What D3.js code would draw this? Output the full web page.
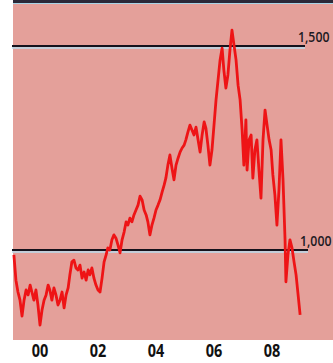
<!DOCTYPE html>
<html>
<head>
<meta charset="utf-8">
<script src="https://cdn.jsdelivr.net/npm/d3@7"></script>
<style>
  body { margin: 0; background: #fff; }
  svg { display: block; }
</style>
</head>
<body>
<script>
// index, weekly-ish reads off the picture
var years = [
  1999.10, 1999.17, 1999.24, 1999.31, 1999.38, 1999.45, 1999.52, 1999.59, 1999.66, 1999.72,
  1999.79, 1999.86, 1999.93, 2000.00, 2000.07, 2000.14, 2000.21, 2000.28, 2000.34, 2000.41,
  2000.48, 2000.55, 2000.62, 2000.69, 2000.76, 2000.83, 2000.90, 2000.97, 2001.03, 2001.10,
  2001.17, 2001.24, 2001.31, 2001.38, 2001.45, 2001.52, 2001.59, 2001.66, 2001.72, 2001.79,
  2001.86, 2001.93, 2002.00, 2002.07, 2002.14, 2002.21, 2002.28, 2002.34, 2002.41, 2002.48,
  2002.55, 2002.62, 2002.69, 2002.76, 2002.83, 2002.90, 2002.97, 2003.03, 2003.10, 2003.17,
  2003.24, 2003.31, 2003.38, 2003.45, 2003.52, 2003.59, 2003.66, 2003.72, 2003.79, 2003.86,
  2003.93, 2004.00, 2004.07, 2004.14, 2004.21, 2004.28, 2004.34, 2004.41, 2004.48, 2004.55,
  2004.62, 2004.69, 2004.76, 2004.83, 2004.90, 2004.97, 2005.03, 2005.10, 2005.17, 2005.24,
  2005.31, 2005.38, 2005.45, 2005.52, 2005.59, 2005.66, 2005.72, 2005.79, 2005.86, 2005.93,
  2006.00, 2006.07, 2006.14, 2006.21, 2006.28, 2006.34, 2006.41, 2006.48, 2006.55, 2006.62,
  2006.69, 2006.76, 2006.83, 2006.90, 2006.97, 2007.03, 2007.10, 2007.14, 2007.21, 2007.28,
  2007.34, 2007.41, 2007.48, 2007.55, 2007.62, 2007.69, 2007.76, 2007.83, 2007.90, 2007.97,
  2008.03, 2008.10, 2008.17, 2008.24, 2008.31, 2008.38, 2008.45, 2008.48, 2008.55, 2008.62,
  2008.69, 2008.76, 2008.83, 2008.90, 2008.97
];
var values = [
  988, 926, 897, 877, 838, 877, 902, 890, 914, 897,
  877, 902, 865, 816, 853, 877, 890, 914, 902, 877,
  907, 890, 865, 877, 897, 858, 890, 907, 939, 971,
  975, 956, 951, 963, 931, 946, 926, 951, 939, 956,
  931, 914, 902, 897, 931, 971, 988, 1005, 1000, 1025,
  1037, 1029, 1012, 993, 1025, 1044, 1069, 1061, 1078, 1069,
  1086, 1098, 1110, 1132, 1123, 1098, 1086, 1069, 1037, 1061,
  1078, 1098, 1110, 1123, 1142, 1159, 1176, 1208, 1233, 1201,
  1172, 1208, 1225, 1240, 1250, 1257, 1270, 1289, 1306, 1294,
  1282, 1301, 1270, 1240, 1282, 1314, 1299, 1257, 1208, 1245,
  1306, 1368, 1417, 1466, 1495, 1441, 1397, 1429, 1490, 1539,
  1502, 1466, 1404, 1368, 1294, 1208, 1319, 1196, 1270, 1282,
  1176, 1245, 1270, 1196, 1127, 1270, 1343, 1306, 1270, 1245,
  1184, 1135, 1061, 1147, 1270, 1172, 1025, 922, 988, 1025,
  1005, 971, 939, 890, 841
];
var gridValues = [1000, 1500];
var gridLabels = ["1,000", "1,500"];
var tickYears = [2000, 2002, 2004, 2006, 2008];
var tickLabels = ["00", "02", "04", "06", "08"];

var w = 333, h = 363;
var plotLeft = 13, plotBottom = 340;

var svg = d3.select("body").append("svg")
  .attr("width", w)
  .attr("height", h);

var x = d3.scaleLinear().domain([2000, 2008]).range([40, 272]);
var y = d3.scaleLinear().domain([1000, 1500]).range([250, 46]);

// pink panel
svg.append("rect")
  .attr("x", plotLeft).attr("y", 0)
  .attr("width", w - plotLeft).attr("height", plotBottom)
  .attr("fill", "#e4a09a");

// top rule
svg.append("line")
  .attr("x1", plotLeft).attr("x2", w)
  .attr("y1", 1.5).attr("y2", 1.5)
  .attr("stroke", "#2b2838").attr("stroke-width", 3);
svg.append("line")
  .attr("x1", plotLeft).attr("x2", w)
  .attr("y1", 3.5).attr("y2", 3.5)
  .attr("stroke", "#a8d4e6").attr("stroke-width", 1);

// gridlines (black with a light blue edge under them)
var grid = svg.selectAll(".grid")
  .data(gridValues)
  .enter().append("g")
  .attr("class", "grid");
grid.append("line")
  .attr("x1", 12).attr("x2", function(d, i) { return i === 0 ? 308 : 305; })
  .attr("y1", function(d) { return y(d) + 2; })
  .attr("y2", function(d) { return y(d) + 2; })
  .attr("stroke", "#b9dcec").attr("stroke-width", 1.5);
grid.append("line")
  .attr("x1", 12).attr("x2", function(d, i) { return i === 0 ? 308 : 305; })
  .attr("y1", function(d) { return y(d); })
  .attr("y2", function(d) { return y(d); })
  .attr("stroke", "#15121c").attr("stroke-width", 2);
// squeezed horizontally so the label stays inside the window
grid.append("text")
  .attr("transform", function(d, i) {
    return "translate(" + (i === 0 ? 300 : 298) + "," + (y(d) - 4) + ") scale(0.82,1)";
  })
  .attr("font-family", "'Open Sans', 'Liberation Sans', sans-serif")
  .attr("font-weight", 600)
  .attr("font-size", 15)
  .attr("fill", "#1c1a22")
  .text(function(d, i) { return gridLabels[i]; });

// the line
var data = years.map(function(d, i) { return { year: d, value: values[i] }; });
var line = d3.line()
  .x(function(d) { return x(d.year); })
  .y(function(d) { return y(d.value); });

svg.append("path")
  .datum(data)
  .attr("d", line)
  .attr("fill", "none")
  .attr("stroke", "#ee1416")
  .attr("stroke-width", 2.8)
  .attr("stroke-linejoin", "round");

// year labels
svg.selectAll(".yr")
  .data(tickYears)
  .enter().append("text")
  .attr("class", "yr")
  .attr("transform", function(d) { return "translate(" + x(d) + ",357) scale(0.85,1)"; })
  .attr("text-anchor", "middle")
  .attr("font-family", "'Open Sans', 'Liberation Sans', sans-serif")
  .attr("font-weight", "bold")
  .attr("font-size", 17)
  .attr("fill", "#111")
  .text(function(d, i) { return tickLabels[i]; });
</script>
</body>
</html>
